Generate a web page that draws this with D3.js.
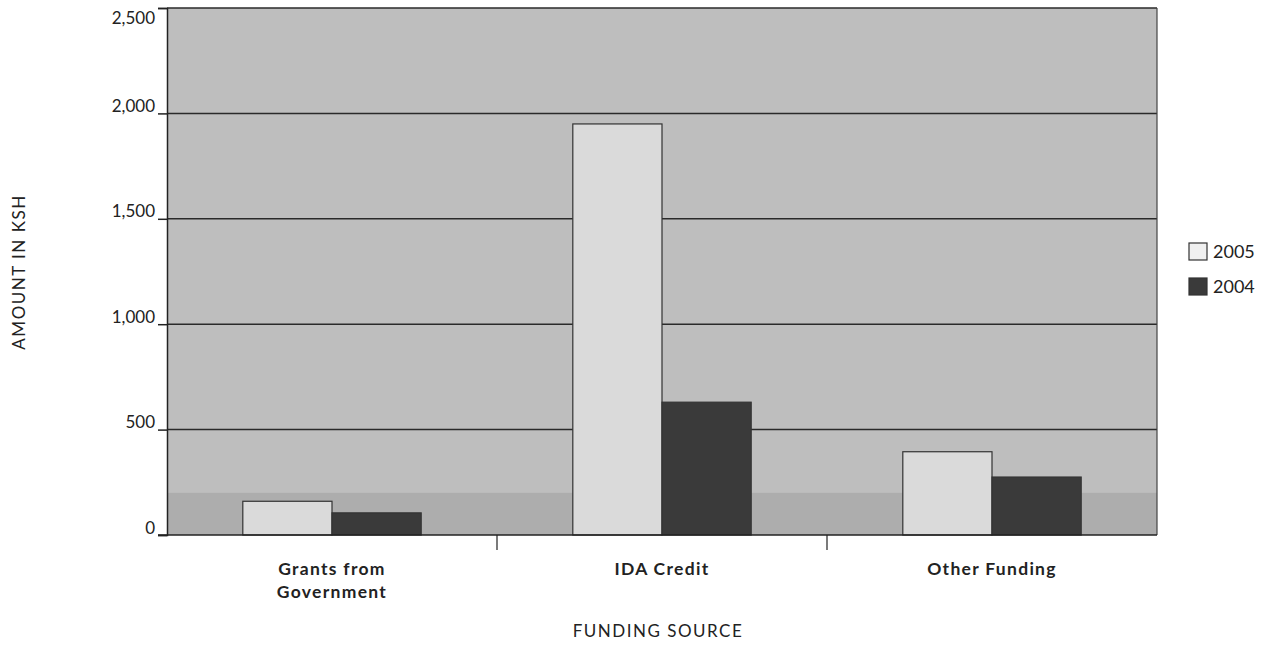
<!DOCTYPE html>
<html>
<head>
<meta charset="utf-8">
<script src="https://cdn.jsdelivr.net/npm/d3@7"></script>
<style>
  html, body { margin: 0; padding: 0; background: #fff; overflow: hidden; }
  svg { display: block; }
</style>
</head>
<body>
<div id="chart"></div>
<script>
// data
var categories = ["Grants from Government", "IDA Credit", "Other Funding"];
var labelLines = [["Grants from", "Government"], ["IDA Credit"], ["Other Funding"]];
var years = ["2005", "2004"];
var values2005 = [160, 1950, 395];
var values2004 = [105, 630, 275];
var yTicks = [0, 500, 1000, 1500, 2000, 2500];

var rows = categories.map(function(c, i) {
  return {cat: c, lines: labelLines[i], vals: [
    {year: "2005", v: values2005[i]},
    {year: "2004", v: values2004[i]}
  ]};
});

var outerWidth = 1267, outerHeight = 645;
var margin = {top: 8, right: 110, bottom: 110, left: 167};
var innerWidth = outerWidth - margin.left - margin.right,   // 990
    innerHeight = outerHeight - margin.top - margin.bottom; // 527

var font = "Lato, 'Open Sans', sans-serif";

var svg = d3.select("#chart").append("svg")
    .attr("width", outerWidth)
    .attr("height", outerHeight)
    .attr("font-family", font);

var g = svg.append("g")
    .attr("transform", "translate(" + margin.left + "," + margin.top + ")");

var x0 = d3.scaleBand().domain(categories).range([0, innerWidth]).padding(0);
var x1 = d3.scaleBand().domain(years).range([0, x0.bandwidth()])
    .paddingInner(0).paddingOuter(0.85);
var y = d3.scaleLinear().domain([0, 2500]).range([innerHeight, 0]);

var color = {"2005": "#dadada", "2004": "#3a3a3a"};

// plot background (grey scan tone, darker strip near the base)
g.append("rect")
    .attr("width", innerWidth).attr("height", innerHeight)
    .attr("fill", "#bebebe");
g.append("rect")
    .attr("y", y(200)).attr("width", innerWidth).attr("height", innerHeight - y(200))
    .attr("fill", "#adadad");

// gridlines
g.append("g")
    .selectAll("line")
    .data(yTicks.filter(function(d) { return d > 0; }))
    .enter().append("line")
    .attr("x1", 0).attr("x2", innerWidth)
    .attr("y1", function(d) { return y(d); })
    .attr("y2", function(d) { return y(d); })
    .attr("stroke", "#2a2a2a").attr("stroke-width", 1.5);

// right border
g.append("line")
    .attr("x1", innerWidth).attr("x2", innerWidth)
    .attr("y1", 0).attr("y2", innerHeight)
    .attr("stroke", "#444").attr("stroke-width", 1.2);

// bars
var groups = g.selectAll(".grp")
    .data(rows)
    .enter().append("g")
    .attr("class", "grp")
    .attr("transform", function(d) { return "translate(" + x0(d.cat) + ",0)"; });

groups.selectAll("rect")
    .data(function(d) { return d.vals; })
    .enter().append("rect")
    .attr("x", function(d) { return x1(d.year); })
    .attr("width", x1.bandwidth())
    .attr("y", function(d) { return y(d.v); })
    .attr("height", function(d) { return innerHeight - y(d.v); })
    .attr("fill", function(d) { return color[d.year]; })
    .attr("stroke", "#333")
    .attr("stroke-width", 1.2);

// y axis (line + tick marks from d3, labels placed in page coordinates)
var yAxis = g.append("g")
    .call(d3.axisLeft(y).tickValues(yTicks).tickFormat("").tickSize(9));
yAxis.select(".domain").attr("stroke", "#222").attr("stroke-width", 1.5);
yAxis.selectAll(".tick line").attr("stroke", "#222").attr("stroke-width", 1.5);

svg.append("g")
    .selectAll("text")
    .data(yTicks)
    .enter().append("text")
    .attr("x", margin.left - 12)
    .attr("y", function(d) { return margin.top + y(d); })
    .attr("dy", function(d) { return d === 2500 ? "0.95em" : "-0.08em"; })
    .attr("text-anchor", "end")
    .attr("fill", "#222")
    .attr("font-size", 17)
    .text(d3.format(","));

// x axis: base line and ticks between categories
var xAxis = g.append("g")
    .attr("transform", "translate(0," + innerHeight + ")");
xAxis.append("line")
    .attr("x1", -9).attr("x2", innerWidth)
    .attr("stroke", "#222").attr("stroke-width", 1.5);
xAxis.selectAll(".sep")
    .data(categories.slice(1))
    .enter().append("line")
    .attr("class", "sep")
    .attr("x1", function(d) { return x0(d); })
    .attr("x2", function(d) { return x0(d); })
    .attr("y1", 0).attr("y2", 15)
    .attr("stroke", "#222").attr("stroke-width", 1.2);

var labels = svg.append("g").selectAll(".cat")
    .data(rows)
    .enter().append("text")
    .attr("class", "cat")
    .attr("text-anchor", "middle")
    .attr("x", function(d) { return margin.left + x0(d.cat) + x0.bandwidth() / 2; })
    .attr("y", margin.top + innerHeight + 40)
    .attr("fill", "#222")
    .attr("font-size", 17.5)
    .attr("font-weight", "bold")
    .attr("letter-spacing", 1.3);
labels.selectAll("tspan")
    .data(function(d) { return d.lines; })
    .enter().append("tspan")
    .attr("x", function() { return d3.select(this.parentNode).attr("x"); })
    .attr("dy", function(d, i) { return i === 0 ? 0 : "1.3em"; })
    .text(function(d) { return d; });

// axis titles
svg.append("text")
    .attr("x", margin.left + innerWidth / 2 - 4)
    .attr("y", 637)
    .attr("text-anchor", "middle")
    .attr("fill", "#222")
    .attr("font-size", 17)
    .attr("letter-spacing", 1.5)
    .text("FUNDING SOURCE");

svg.append("text")
    .attr("x", 25).attr("y", 272)
    .attr("transform", "rotate(-90,25,272)")
    .attr("text-anchor", "middle")
    .attr("fill", "#222")
    .attr("font-size", 17)
    .attr("letter-spacing", 1.5)
    .text("AMOUNT IN KSH");

// legend
var legendY = [243, 278];
svg.append("g").selectAll("rect")
    .data(years)
    .enter().append("rect")
    .attr("x", 1189)
    .attr("y", function(d, i) { return legendY[i]; })
    .attr("width", 18).attr("height", 17)
    .attr("fill", function(d) { return d === "2005" ? "#f0f0f0" : color[d]; })
    .attr("stroke", "#333").attr("stroke-width", 1.2);
svg.append("g").selectAll("text")
    .data(years)
    .enter().append("text")
    .attr("x", 1213)
    .attr("y", function(d, i) { return legendY[i] + 15; })
    .attr("fill", "#222")
    .attr("font-size", 18)
    .text(function(d) { return d; });
</script>
</body>
</html>
